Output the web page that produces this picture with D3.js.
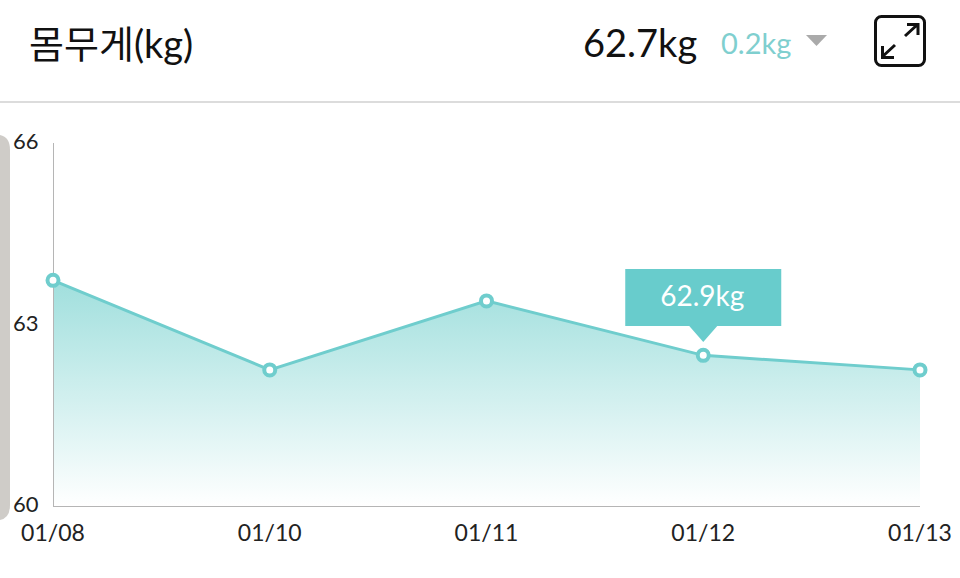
<!DOCTYPE html>
<html><head><meta charset="utf-8">
<style>html,body{margin:0;padding:0;background:#fff;overflow:hidden}svg{display:block}text{font-family:Lato,"Noto Sans CJK KR",sans-serif}</style>
<script src="https://cdn.jsdelivr.net/npm/d3@7"></script></head><body>
<svg id="c" width="960" height="578"></svg>
<script>
const dates=["01/08","01/10","01/11","01/12","01/13"];
const weights=[63.73,62.25,63.39,62.49,62.25];
const yTicks=[60,63,66];
const title="몸무게(kg)";
const current="62.7kg";
const change="0.2kg";
const tipLabel="62.9kg";
const tipIndex=3;
const teal="#6fcdcd";
const svg=d3.select("#c");
const x=d3.scalePoint().domain(dates).range([53,920]);
const y=d3.scaleLinear().domain([60,66]).range([506,143]);
const defs=svg.append("defs");
const g=defs.append("linearGradient").attr("id","fade").attr("x1",0).attr("x2",0).attr("y1",0).attr("y2",1);
g.append("stop").attr("offset",0).attr("stop-color","#a0dfdd");
g.append("stop").attr("offset",1).attr("stop-color","#ffffff");
// header
svg.append("text").attr("x",29).attr("y",58).attr("font-size",38).attr("fill","#111").text(title);
svg.append("text").attr("x",583).attr("y",57).attr("font-size",38).attr("fill","#111").text(current);
svg.append("text").attr("x",721).attr("y",54).attr("font-size",29).attr("fill","#7fcfcf").text(change);
svg.append("path").attr("d","M806 35H827L816.5 46Z").attr("fill","#aaa");
const ic=svg.append("g").attr("fill","none").attr("stroke","#111").attr("stroke-width",3);
ic.append("rect").attr("x",875.5).attr("y",16.5).attr("width",49).attr("height",49).attr("rx",6);
ic.append("path").attr("d","M905 36L917 25M907 24.5H918V35");
ic.append("path").attr("d","M882 57L895 45M882.5 46V57.5H894");
svg.append("line").attr("x1",0).attr("x2",960).attr("y1",102).attr("y2",102).attr("stroke","#dcdcdc").attr("stroke-width",2);
svg.append("path").attr("d","M0 135Q10 137 10 150V505Q10 518 0 520Z").attr("fill","#cfccc8");
// area
const area=d3.area().x(d=>x(d.k)).y0(y(60)).y1(d=>y(d.v));
const line=d3.line().x(d=>x(d.k)).y(d=>y(d.v));
const pts=dates.map((k,i)=>({k,v:weights[i]}));
svg.append("path").datum(pts).attr("d",area).attr("fill","url(#fade)");
// axes
svg.append("line").attr("x1",53.5).attr("x2",53.5).attr("y1",y(66)).attr("y2",y(60)).attr("stroke","#b5b5b5").attr("stroke-width",1);
svg.append("line").attr("x1",53).attr("x2",920).attr("y1",506.5).attr("y2",506.5).attr("stroke","#b5b5b5").attr("stroke-width",1.2);
svg.selectAll(".yt").data(yTicks).join("text").attr("class","yt").attr("x",13).attr("y",d=>y(d)+6).attr("font-size",22).attr("fill","#222").text(d=>d);
svg.selectAll(".xt").data(dates).join("text").attr("class","xt").attr("x",d=>x(d)).attr("y",541).attr("text-anchor","middle").attr("font-size",23).attr("fill","#222").text(d=>d);
svg.append("path").datum(pts).attr("d",line).attr("fill","none").attr("stroke",teal).attr("stroke-width",3);
svg.selectAll(".pt").data(pts).join("circle").attr("class","pt").attr("cx",d=>x(d.k)).attr("cy",d=>y(d.v)).attr("r",5.5).attr("fill","#fff").attr("stroke",teal).attr("stroke-width",4);
// tooltip
const tx=x(dates[tipIndex]);
svg.append("path").attr("d",`M${tx-78} 269H${tx+78}V326H${tx+14}L${tx} 342L${tx-14} 326H${tx-78}Z`).attr("fill","#68cccc");
svg.append("text").attr("x",tx-1).attr("y",306).attr("text-anchor","middle").attr("font-size",28).attr("fill","#fff").text(tipLabel);
</script></body></html>
